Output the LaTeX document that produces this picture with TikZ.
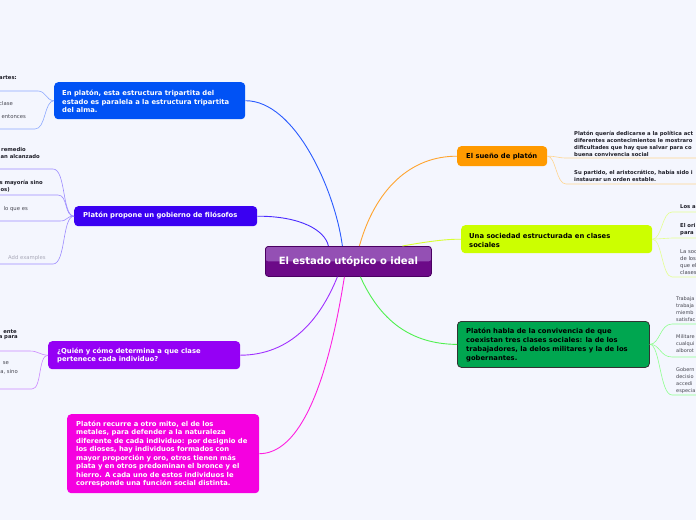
\documentclass[tikz,border=0pt]{standalone}
\usepackage{fontspec}
\setmainfont{DejaVu Sans}
\usetikzlibrary{calc}
\definecolor{bg}{HTML}{F4F6FE}
\definecolor{cTop}{HTML}{9450B4}
\definecolor{cBot}{HTML}{6C0A88}
\definecolor{cBorder}{HTML}{4A0062}
\definecolor{c2}{HTML}{0052F5}
\definecolor{c3}{HTML}{3A00F2}
\definecolor{c4}{HTML}{9500F5}
\definecolor{c5}{HTML}{F500E0}
\definecolor{c6}{HTML}{FF9A00}
\definecolor{c7}{HTML}{CCFF00}
\definecolor{c8}{HTML}{00A650}
\definecolor{k2}{HTML}{2A5BFF}
\definecolor{k3}{HTML}{4B2BFF}
\definecolor{k4}{HTML}{A030FF}
\definecolor{k5}{HTML}{FF20E0}
\definecolor{k6}{HTML}{FFA530}
\definecolor{k7}{HTML}{D8FF30}
\definecolor{k8}{HTML}{50F050}
\definecolor{l2}{HTML}{8CA8FF}
\definecolor{l3}{HTML}{9D8CFF}
\definecolor{l4}{HTML}{CC88FF}
\definecolor{l6}{HTML}{FFD590}
\definecolor{l7}{HTML}{E4FF90}
\definecolor{l8}{HTML}{90FF90}
\definecolor{subdark}{HTML}{1E1E28}
\definecolor{subgray}{HTML}{45454F}
\definecolor{addgray}{HTML}{A8A8B8}
\begin{document}
\begin{tikzpicture}[x=1pt,y=-1pt,
  mainbox/.style={rounded corners=4pt, inner sep=0pt, anchor=north west},
  mtext/.style={font=\fontsize{6.8}{8.8}\selectfont\bfseries, align=left, anchor=west, inner sep=0pt},
  stextb/.style={font=\fontsize{5.3}{7}\selectfont\bfseries, text=subdark, align=left, inner sep=0pt},
  stextr/.style={font=\fontsize{5.3}{7}\selectfont, text=subgray, align=left, inner sep=0pt},
  conn/.style={line width=0.9pt},
  subline/.style={line width=0.6pt},
]
\useasboundingbox (0,0) rectangle (696,520);
\fill[bg] (0,0) rectangle (696,520);
\clip (0,0) rectangle (696,520);

% ---- main nodes
\node[mainbox, fill=cBot, draw=cBorder, line width=0.8pt, rounded corners=3pt,
      minimum width=166pt, minimum height=30pt,
      path picture={\fill[cTop] (path picture bounding box.north west) rectangle (path picture bounding box.east);}]
      (c) at (265,246) {};
\node[font=\fontsize{10}{12}\selectfont\bfseries, text=white, inner sep=0pt] (ct) at (c.center) {El estado utópico o ideal};

\node[mainbox, fill=c2, minimum width=191pt, minimum height=37pt] (n2) at (54,82) {};
\node[mtext, text=white] (t2) at (62,101.5) {En platón, esta estructura tripartita del\\estado es paralela a la estructura tripartita\\del alma.};

\node[mainbox, fill=c3, minimum width=183pt, minimum height=20pt] (n3) at (74,206) {};
\node[mtext, text=white] (t3) at (83,216) {Platón propone un gobierno de filósofos};

\node[mainbox, fill=c4, minimum width=192pt, minimum height=28pt] (n4) at (48,341) {};
\node[mtext, text=white] (t4) at (57,355.5) {¿Quién y cómo determina a que clase\\pertenece cada individuo?};

\node[mainbox, fill=c5, minimum width=192pt, minimum height=79pt] (n5) at (67,414) {};
\node[mtext, text=white, font=\fontsize{6.8}{8.45}\selectfont\bfseries] (t5) at (76,454) {Platón recurre a otro mito, el de los\\metales, para defender a la naturaleza\\diferente de cada individuo: por designio de\\los dioses, hay individuos formados con\\mayor proporción y oro, otros tienen más\\plata y en otros predominan el bronce y el\\hierro. A cada uno de estos individuos le\\corresponde una función social distinta.};

\node[mainbox, fill=c6, minimum width=90pt, minimum height=20pt] (n6) at (457,146) {};
\node[mtext, text=black] (t6) at (466,156) {El sueño de platón};

\node[mainbox, fill=c7, minimum width=191pt, minimum height=28pt] (n7) at (461,225) {};
\node[mtext, text=black] (t7) at (469,240.5) {Una sociedad estructurada en clases\\sociales};

\node[mainbox, fill=c8, draw=black!80, line width=0.8pt, minimum width=192pt, minimum height=46pt] (n8) at (457,321) {};
\node[mtext, text=black, font=\fontsize{6.8}{8.7}\selectfont\bfseries] (t8) at (466,345) {Platón habla de la convivencia de que\\coexistan tres clases sociales: la de los\\trabajadores, la delos militares y la de los\\gobernantes.};

% ---- connectors from centre
\draw[conn, k2] ($(c.north)+(-6,0)$) .. controls (335,190) and (295,100.5) .. (n2.east);
\draw[conn, k3] ($(c.north)+(-20,0)$) .. controls (325,230) and (300,216) .. (n3.east);
\draw[conn, k6] ($(c.north)+(11,0)$) .. controls (375,190) and (410,156) .. (n6.west);
\draw[conn, k7] ($(c.north)+(54,0)$) .. controls (425,242) and (445,239) .. (n7.west);
\draw[conn, k4] ($(c.south)+(-11,0)$) .. controls (320,320) and (290,355) .. (n4.east);
\draw[conn, k5] ($(c.south)+(-4,0)$) .. controls (325,400) and (295,453.5) .. (n5.east);
\draw[conn, k8] ($(c.south)+(12,0)$) .. controls (380,320) and (410,344) .. (n8.west);

% ---- sub branches, left
\draw[subline, l2] (n2.west) .. controls (46,100.5) and (46,91) .. (38,91) -- (0,91);
\draw[subline, l2] (n2.west) .. controls (44,101) and (46,129) .. (35,129) -- (0,129);
\node[stextb, anchor=east] (s21) at (17,78) {artes:};
\node[stextr, anchor=east] (s22a) at (13,104) {clase};
\node[stextr, anchor=east] (s22b) at (26,117) {entonces};

\draw[subline, l3] (n3.west) .. controls (62,216) and (66,169) .. (53,169) -- (0,169);
\draw[subline, l3] (n3.west) .. controls (64,216) and (68,195) .. (58,195) -- (0,195);
\draw[subline, l3] (n3.west) .. controls (66,216) and (68,221) .. (60,221) -- (0,221);
\draw[subline, l3] (n3.west) .. controls (62,216) and (66,264) .. (53,264) -- (0,264);
\node[stextb, anchor=west] (s31a) at (1,150) {remedio};
\node[stextb, anchor=east] (s31b) at (40,157) {an alcanzado};
\node[stextb, anchor=east] (s32a) at (43,183) {s mayoría sino};
\node[stextb, anchor=east] (s32b) at (10,189.5) {os)};
\node[stextr, anchor=east] (s33) at (28,209) {lo que es};
\node[stextr, anchor=west, text=addgray] (s34) at (8,258) {Add examples};

\draw[subline, l4] (n4.west) .. controls (40,355) and (38,351) .. (30,351) -- (0,351);
\draw[subline, l4] (n4.west) .. controls (38,355) and (42,389) .. (32,389) -- (0,389);
\node[stextb, anchor=east] (s41a) at (17,331.5) {ente};
\node[stextb, anchor=east] (s41b) at (18,338) {a para};
\node[stextr, anchor=east] (s42a) at (9,363.5) {se};
\node[stextr, anchor=east] (s42b) at (18,371.5) {a, sino};

% ---- sub branches, right
\draw[subline, l6] (n6.east) .. controls (556,156) and (558,158) .. (566,158) -- (696,158);
\draw[subline, l6] (n6.east) .. controls (556,156) and (556,184) .. (566,184) -- (696,184);
\node[stextb, anchor=west] (s61) at (574,143.5) {Platón quería dedicarse a la política act\\diferentes acontecimientos le mostraro\\dificultades que hay que salvar para co\\buena convivencia social};
\node[stextb, anchor=west] (s62) at (574,175.5) {Su partido, el aristocrático, había sido i\\instaurar un orden estable.};

\draw[subline, l7] (n7.east) .. controls (662,239) and (662,212) .. (672,212) -- (696,212);
\draw[subline, l7] (n7.east) .. controls (662,239) and (662,238) .. (672,238) -- (696,238);
\draw[subline, l7] (n7.east) .. controls (662,239) and (662,277) .. (672,277) -- (696,277);
\node[stextb, anchor=west] (s71) at (680,207) {Los a};
\node[stextb, anchor=west] (s72) at (680,229.5) {El ori\\para};
\node[stextr, anchor=west] (s73) at (680,262.5) {La soc\\de los\\que el\\clases};

\draw[subline, l8] (n8.east) .. controls (660,344) and (660,324) .. (672,324) -- (696,324);
\draw[subline, l8] (n8.east) .. controls (660,344) and (660,357) .. (672,357) -- (696,357);
\draw[subline, l8] (n8.east) .. controls (660,344) and (660,395) .. (672,395) -- (696,395);
\node[stextr, anchor=west, font=\fontsize{5}{7}\selectfont] (s81) at (676,309) {Trabaja\\trabaja\\miemb\\satisfac};
\node[stextr, anchor=west, font=\fontsize{5}{7}\selectfont] (s82) at (676,343.5) {Militare\\cualqui\\alborot};
\node[stextr, anchor=west, font=\fontsize{5}{7}\selectfont] (s83) at (676,380.5) {Gobern\\decisio\\accedi\\especia};
\end{tikzpicture}
\end{document}
